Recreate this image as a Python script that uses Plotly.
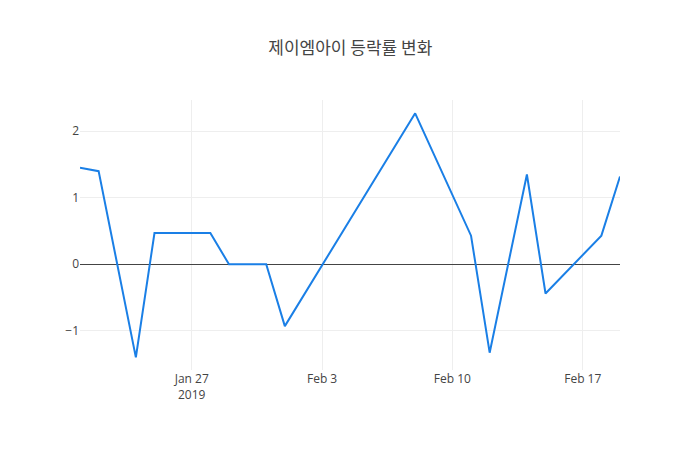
import plotly.graph_objects as go

dates = ["2019-01-21", "2019-01-22", "2019-01-24", "2019-01-25", "2019-01-28",
         "2019-01-29", "2019-01-31", "2019-02-01", "2019-02-08", "2019-02-11",
         "2019-02-12", "2019-02-14", "2019-02-15", "2019-02-18", "2019-02-19"]
rates = [1.45, 1.40, -1.40, 0.47, 0.47, 0.0, 0.0, -0.93, 2.27, 0.43,
         -1.33, 1.35, -0.44, 0.43, 1.32]

fig = go.Figure()
fig.add_trace(go.Scatter(x=dates, y=rates, mode="lines",
                         line=dict(color="#1a7fe6", width=2)))
fig.update_layout(
    title=dict(text="제이엠아이 등락률 변화", x=0.489,
               font=dict(family="Noto Sans CJK KR", size=17, color="#444")),
    width=700, height=450,
    plot_bgcolor="white", paper_bgcolor="white",
    margin=dict(l=72, r=88, t=92, b=88),
    font=dict(family="Open Sans", size=12, color="#444"),
    showlegend=False,
)
fig.update_xaxes(showgrid=True, gridcolor="#eee", zeroline=False,
                 range=["2019-01-21", "2019-02-19"])
fig.update_yaxes(showgrid=True, gridcolor="#eee", zeroline=True,
                 zerolinecolor="#444", zerolinewidth=1, range=[-1.59, 2.47])
fig.write_html("out.html")
